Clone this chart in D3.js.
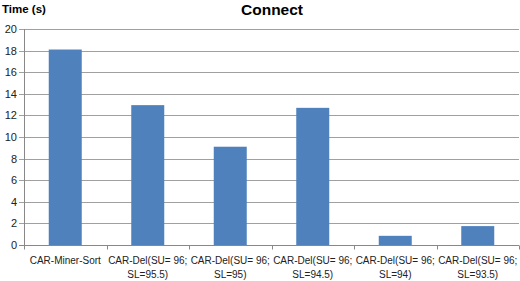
<!DOCTYPE html>
<html><head><meta charset="utf-8">
<script src="https://cdn.jsdelivr.net/npm/d3@7"></script>
<style>body{margin:0;background:#fff;}svg{display:block;}</style>
</head><body>
<script>
const categories = [
  ["CAR-Miner-Sort"],
  ["CAR-Del(SU= 96;", "SL=95.5)"],
  ["CAR-Del(SU= 96;", "SL=95)"],
  ["CAR-Del(SU= 96;", "SL=94.5)"],
  ["CAR-Del(SU= 96;", "SL=94)"],
  ["CAR-Del(SU= 96;", "SL=93.5)"]
];
const values = [18.1, 12.95, 9.1, 12.7, 0.85, 1.75];
const yTicks = [0, 2, 4, 6, 8, 10, 12, 14, 16, 18, 20];
const title = "Connect";
const yTitle = "Time (s)";

const W = 520, H = 281;
const m = {left: 24, right: 1, top: 29, bottom: 36};
const svg = d3.select("body").append("svg").attr("width", W).attr("height", H);
const font = "'Liberation Sans', Arial, sans-serif";

const x = d3.scaleBand().domain(d3.range(categories.length))
  .range([m.left, W - m.right]).paddingInner(0.6).paddingOuter(0.3);
const y = d3.scaleLinear().domain([0, 20]).range([H - m.bottom, m.top]);

const g = svg.append("g");
g.selectAll("line.grid").data(yTicks.filter(t => t > 0)).join("line")
  .attr("x1", m.left - 5).attr("x2", W - m.right)
  .attr("y1", d => Math.round(y(d)) + 0.5).attr("y2", d => Math.round(y(d)) + 0.5)
  .attr("stroke", "#a0a0a0").attr("stroke-width", 1);
g.selectAll("text.yt").data(yTicks).join("text")
  .attr("x", m.left - 7).attr("y", d => y(d) + 4)
  .attr("text-anchor", "end").attr("font-family", font).attr("font-size", 11)
  .attr("fill", "#222").text(d => d);

svg.selectAll("rect.bar").data(values).join("rect")
  .attr("x", (d, i) => x(i)).attr("width", x.bandwidth())
  .attr("y", d => y(d)).attr("height", d => y(0) - y(d))
  .attr("fill", "#4F81BD");

const y0 = Math.round(y(0)) + 0.5;
svg.append("line").attr("x1", m.left + 0.5).attr("x2", m.left + 0.5)
  .attr("y1", m.top).attr("y2", y0).attr("stroke", "#888");
svg.append("line").attr("x1", m.left - 5).attr("x2", W - m.right)
  .attr("y1", y0).attr("y2", y0).attr("stroke", "#888");
const bounds = d3.range(categories.length + 1).map(i => m.left + i * (W - m.right - m.left) / categories.length);
svg.selectAll("line.xt").data(bounds).join("line")
  .attr("x1", d => Math.round(d) + 0.5).attr("x2", d => Math.round(d) + 0.5)
  .attr("y1", y0).attr("y2", y0 + 4).attr("stroke", "#888");

const xl = svg.selectAll("text.xl").data(categories).join("text")
  .attr("text-anchor", "middle").attr("font-family", font).attr("font-size", 10)
  .attr("fill", "#222");
xl.each(function(d, i) {
  const t = d3.select(this);
  const cx = x(i) + x.bandwidth() / 2;
  d.forEach((line, j) => {
    t.append("tspan").attr("x", cx).attr("y", 264 + j * 14).text(line);
  });
});

svg.append("text").attr("x", 272).attr("y", 15).attr("text-anchor", "middle")
  .attr("font-family", font).attr("font-weight", "bold").attr("font-size", 15.5).text(title);
svg.append("text").attr("x", 2).attr("y", 13)
  .attr("font-family", font).attr("font-weight", "bold").attr("font-size", 11.5).text(yTitle);
</script>
</body></html>
